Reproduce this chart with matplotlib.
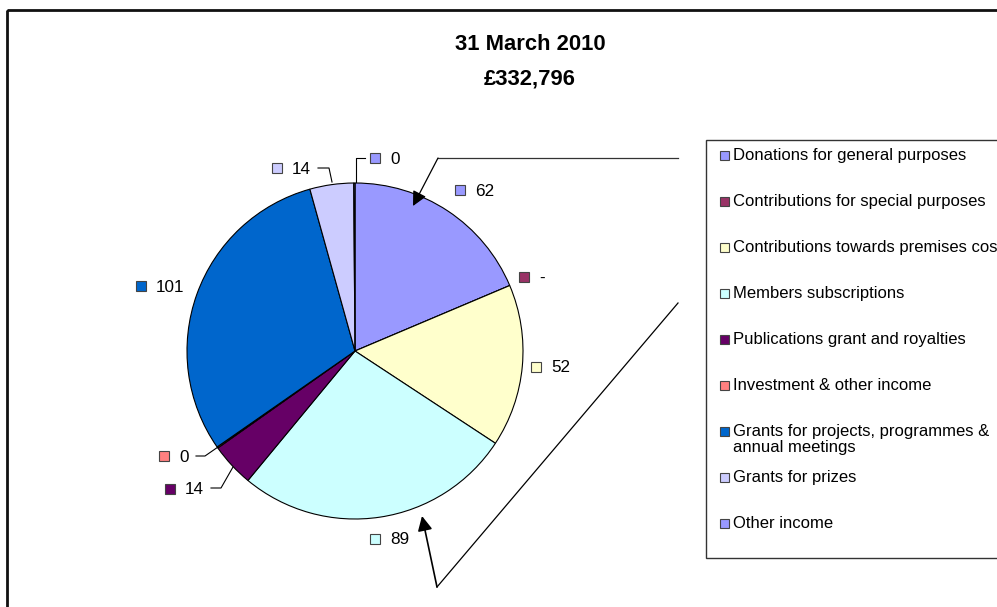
import matplotlib.pyplot as plt
from matplotlib.patches import Rectangle

plt.rcParams['font.family'] = ['Liberation Sans', 'DejaVu Sans']

# data (in £'000)
categories = ['Donations for general purposes',
              'Contributions for special purposes',
              'Contributions towards premises costs',
              'Members subscriptions',
              'Publications grant and royalties',
              'Investment & other income',
              'Grants for projects, programmes &\nannual meetings',
              'Grants for prizes',
              'Other income']
values = [62, 0, 52, 89, 14, 0.4, 101, 14, 0.4]
value_labels = ['62', '-', '52', '89', '14', '0', '101', '14', '0']
colors = ['#9999FF', '#993366', '#FFFFCC', '#CCFFFF', '#660066',
          '#FF8080', '#0066CC', '#CCCCFF', '#9999FF']
title = '31 March 2010\n£332,796'

W, H = 997, 607
fig = plt.figure(figsize=(W / 100, H / 100), dpi=100)
ax = fig.add_axes([0, 0, 1, 1])

# pie in pixel coordinates (y axis pointing down)
cx, cy, R = 355, 351, 168
ax.pie(values, colors=colors, center=(cx, cy), radius=R,
       startangle=-90, counterclock=True,
       wedgeprops=dict(edgecolor='black', linewidth=0.8))
ax.set_xlim(0, W)
ax.set_ylim(H, 0)
ax.set_aspect('auto')
ax.axis('off')

# outer frame (only left and top edges visible)
ax.add_patch(Rectangle((7, 10), 1200, 800, fill=False, edgecolor='#111111',
                       linewidth=2, clip_on=False))

ax.text(530, 62, title, ha='center', va='center', fontsize=15.8,
        fontweight='bold', linespacing=1.85)

# value labels: square centre and text position
label_pos = [(460, 190), (524, 277), (536, 367), (375, 539), (170, 489),
             (164, 456), (141, 286), (277, 168), (375, 158)]
for (sx, sy), txt, c in zip(label_pos, value_labels, colors):
    ax.add_patch(Rectangle((sx - 5, sy - 5), 10, 10, facecolor=c,
                           edgecolor='#444444', linewidth=0.8))
    ax.text(sx + 15, sy + 1, txt, ha='left', va='center', fontsize=12.3)

# leader lines
leaders = [[(356, 182), (356, 158), (365, 158)],
           [(332, 182), (329, 168), (318, 168)],
           [(218, 447), (205, 456), (196, 456)],
           [(233, 467), (221, 488), (211, 488)]]
for pts in leaders:
    xs, ys = zip(*pts)
    ax.plot(xs, ys, color='black', linewidth=0.8)

# callout arrows
ax.plot([678, 438], [158, 158], color='#333333', linewidth=0.9)
ax.plot([678, 437], [303, 587], color='black', linewidth=0.9)
ax.annotate('', xy=(413, 206), xytext=(438, 158),
            arrowprops=dict(arrowstyle='-|>', color='black', lw=0.9,
                            mutation_scale=22, shrinkA=0, shrinkB=0))
ax.annotate('', xy=(422, 516), xytext=(437, 587),
            arrowprops=dict(arrowstyle='-|>', color='black', lw=1.2,
                            mutation_scale=22, shrinkA=0, shrinkB=0))

# legend box
ax.add_patch(Rectangle((706, 140), 400, 418, facecolor='white',
                       edgecolor='#333333', linewidth=1, clip_on=False))
for i, (name, c) in enumerate(zip(categories, colors)):
    y = 155 + i * 46
    ax.add_patch(Rectangle((720, y - 4.5), 9, 9, facecolor=c,
                           edgecolor='#444444', linewidth=0.8))
    ax.text(733, y - 7, name, ha='left', va='top', fontsize=12,
            linespacing=1.08)

fig.savefig('out.png', dpi=100)
